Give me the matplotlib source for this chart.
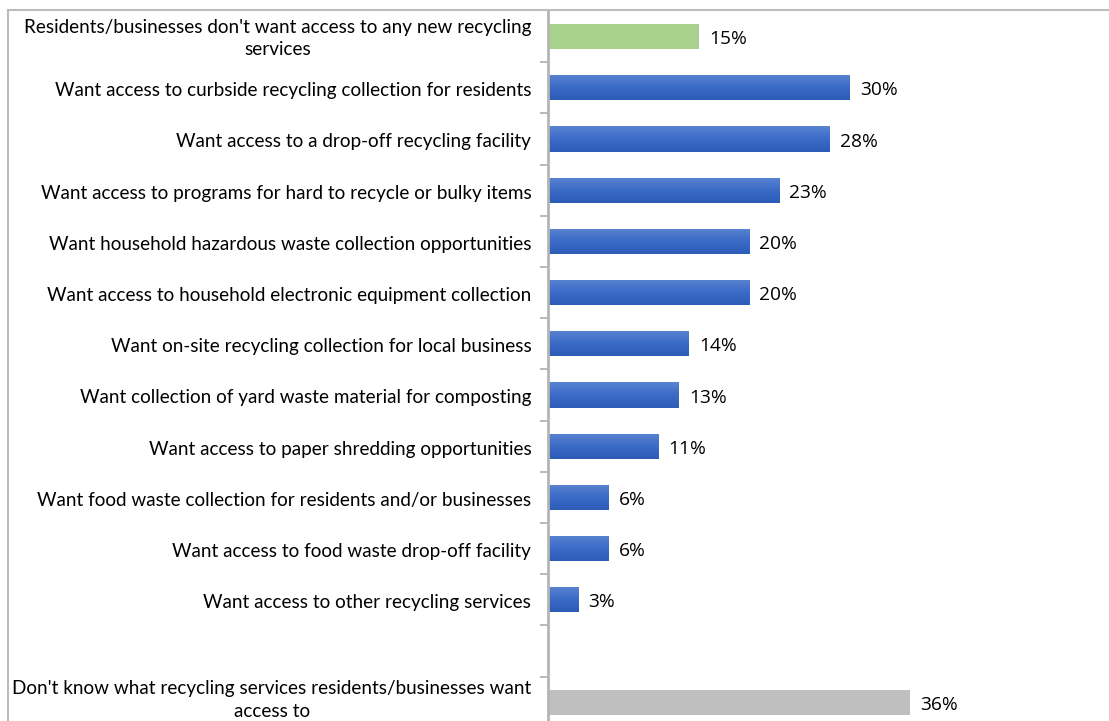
import matplotlib
matplotlib.use("Agg")
import matplotlib.pyplot as plt
import numpy as np
from matplotlib.colors import LinearSegmentedColormap
from matplotlib.patches import Rectangle

# 설문 항목 (위에서 아래 순서, 빈 칸은 구분용 공백 행)
categories = [
    "Residents/businesses don't want access to any new recycling\nservices",
    "Want access to curbside recycling collection for residents",
    "Want access to a drop-off recycling facility",
    "Want access to programs for hard to recycle or bulky items",
    "Want household hazardous waste collection opportunities",
    "Want access to household electronic equipment collection",
    "Want on-site recycling collection for local business",
    "Want collection of yard waste material for composting",
    "Want access to paper shredding opportunities",
    "Want food waste collection for residents and/or businesses",
    "Want access to food waste drop-off facility",
    "Want access to other recycling services",
    "",
    "Don't know what recycling services residents/businesses want\naccess to",
]
values = [15, 30, 28, 23, 20, 20, 14, 13, 11, 6, 6, 3, None, 36]
kinds = ["green"] + ["blue"] * 11 + [None, "grey"]

GREEN = "#a9d18e"
GREY = "#bfbfbf"
blue_grad = LinearSegmentedColormap.from_list("blue_grad", ["#5b84d2", "#3a6bc6", "#2c5cb6"])

W, H = 1109, 721
fig = plt.figure(figsize=(W / 100, H / 100), dpi=100)

# 바깥 테두리 (위쪽과 왼쪽만 보임)
fig.add_artist(Rectangle((8 / W, -0.1), 1.2, 1 - 10 / H + 0.1, transform=fig.transFigure,
                         fill=False, edgecolor="#bcbcbc", linewidth=1.5))

ax_left, ax_top = 548 / W, 1 - 11 / H
ax = fig.add_axes([ax_left, 0, 1101 / W - ax_left, ax_top])

y = np.arange(len(categories))
bar_h = 0.49
for yi, v, k in zip(y, values, kinds):
    if v is None:
        continue
    if k == "blue":
        bar = ax.barh(yi, v, height=bar_h, color="none", linewidth=0)[0]
        grad = np.linspace(0, 1, 64).reshape(-1, 1)
        im = ax.imshow(grad, cmap=blue_grad, aspect="auto", origin="upper",
                       extent=(0, v, yi + bar_h / 2, yi - bar_h / 2), zorder=2)
        im.set_clip_path(bar)
    else:
        ax.barh(yi, v, height=bar_h, color=GREEN if k == "green" else GREY, linewidth=0, zorder=2)
    ax.text(v + 1.0, yi + 0.05, f"{v}%", va="center", ha="left",
            fontsize=13.8, family="Open Sans", color="#000000")

px_per_slot = 51.2
ax.set_xlim(0, 55)
ax.set_ylim(-0.5 + (ax_top * H) / px_per_slot, -0.5)

# 항목 이름: 축 왼쪽에 오른쪽 정렬, 두 줄짜리는 가운데 정렬
ax.set_yticks(y)
ax.set_yticklabels([])
for yi, name in zip(y, categories):
    if not name:
        continue
    if "\n" in name:
        # 맨 아래 항목은 그림 밖으로 잘리지 않게 조금 올린다
        dy, va = (1.5, "center") if yi == y[-1] else (-1.5, "center")
    else:
        dy, va = (-1, "center_baseline")
    ax.annotate(name, xy=(0, yi), xycoords=("axes fraction", "data"),
                xytext=(-12, dy), textcoords="offset points",
                ha="right", va=va, multialignment="center",
                linespacing=1.4, fontsize=13.6, family="Lato", annotation_clip=False)
ax.tick_params(axis="y", which="major", length=0)
ax.set_yticks(y[:-1] + 0.5, minor=True)
ax.tick_params(axis="y", which="minor", length=6, width=1.3, color="#b4b4b4", direction="out")
ax.set_xticks([])

for s in ["top", "right", "bottom"]:
    ax.spines[s].set_visible(False)
ax.spines["left"].set_color("#b4b4b4")
ax.spines["left"].set_linewidth(2)

fig.savefig("out.png", dpi=100)
